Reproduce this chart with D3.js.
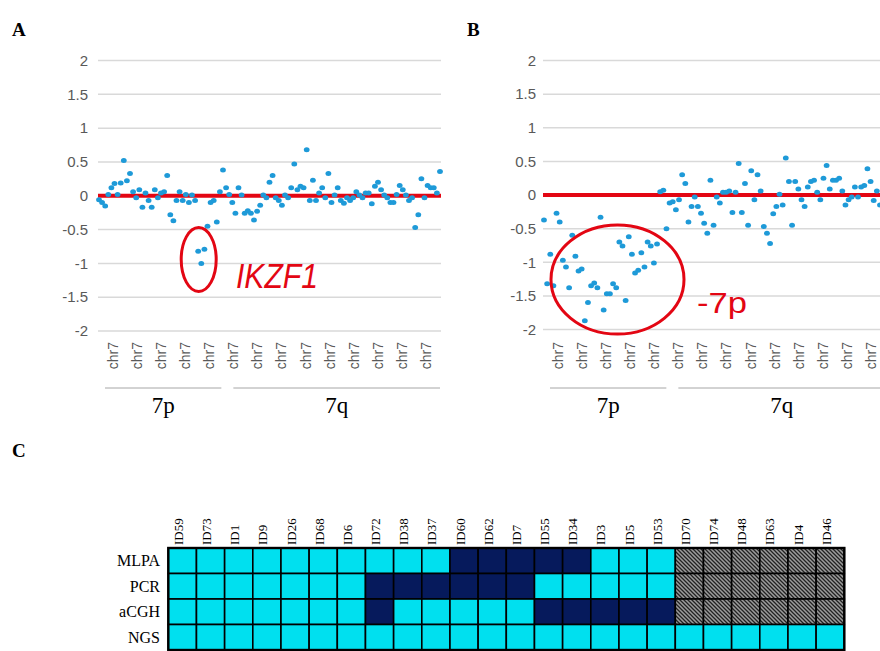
<!DOCTYPE html>
<html><head><meta charset="utf-8">
<script src="https://cdn.jsdelivr.net/npm/d3@7"></script>
<style>body{margin:0;background:#fff}svg{display:block}</style>
</head><body>
<svg id="c" width="880" height="651"></svg>
<script>
// ---------- DATA ----------
const yTicks = [2, 1.5, 1, 0.5, 0, -0.5, -1, -1.5, -2];
const xTickLabels = ["chr7","chr7","chr7","chr7","chr7","chr7","chr7","chr7","chr7","chr7","chr7","chr7","chr7","chr7"];
const armNames = ["7p", "7q"];
const armTickCounts = [5, 9];

// Panel A log2 ratios (probe order along chr7)
const valuesA = [
 -0.06,-0.1,-0.15,0.02,0.12,0.18,0.02,0.19,0.52,0.22,0.33,0.06,-0.03,0.09,-0.17,0.04,-0.07,-0.17,0.09,-0.03,
 0.04,0.06,0.3,-0.28,-0.37,-0.07,0.06,-0.07,0.02,-0.1,0.01,-0.07,-0.82,-1.0,-0.79,-0.45,
 -0.1,-0.07,-0.39,0.06,0.38,0.12,0.02,-0.1,-0.26,0.12,0.01,-0.26,-0.22,-0.26,-0.36,-0.23,-0.14,0.01,-0.03,0.2,
 0.3,-0.03,-0.07,-0.14,0.01,-0.03,0.12,0.47,0.09,0.14,0.12,0.68,-0.07,0.23,-0.07,0.04,0.12,-0.03,0.33,-0.1,
 0.01,0.12,-0.07,-0.11,-0.03,-0.07,-0.03,0.06,0.01,-0.03,0.04,0.04,-0.12,0.14,0.2,0.09,0.01,-0.03,-0.1,-0.1,
 0.02,0.15,0.09,0.01,-0.07,-0.03,-0.47,-0.28,0.25,-0.03,0.15,0.12,0.12,0.04,0.36
];
// Panel B log2 ratios
const valuesB = [
 -0.37,-1.32,-0.88,-1.35,-0.27,-0.4,-0.97,-1.07,-1.38,-0.6,-0.91,-1.13,-1.1,-1.87,-1.6,-1.35,-1.31,-1.38,-0.33,-1.71,
 -1.47,-1.47,-1.32,-1.38,-0.7,-0.76,-1.57,-0.62,-0.88,-1.16,-1.12,-0.86,-1.07,-0.7,-0.76,-1.01,-0.73,
 0.05,0.07,-0.5,-0.12,-0.1,-0.22,-0.07,0.3,0.17,-0.4,-0.17,-0.03,-0.17,-0.27,-0.42,-0.57,0.22,-0.45,-0.03,-0.12,
 0.04,0.04,0.06,-0.26,0.04,0.47,-0.26,0.17,-0.45,0.36,-0.07,0.3,0.06,-0.47,-0.57,-0.72,-0.28,-0.17,0.01,-0.15,
 0.55,0.2,-0.45,0.2,0.09,-0.07,-0.17,0.12,0.2,0.22,0.04,-0.07,0.25,0.44,0.09,0.22,0.22,0.25,0.06,-0.15,
 -0.07,-0.03,0.12,-0.03,0.12,0.14,0.39,0.2,-0.08,0.06,-0.15
];

// Panel C
const sampleIds = ["ID59","ID73","ID1","ID9","ID26","ID68","ID6","ID72","ID38","ID37","ID60","ID62","ID7","ID55","ID34","ID3","ID5","ID53","ID70","ID74","ID48","ID63","ID4","ID46"];
const methods = ["MLPA","PCR","aCGH","NGS"];
// 0 = not detected, 1 = detected, 2 = not analysed
const statusMLPA = [0,0,0,0,0,0,0,0,0,0,1,1,1,1,1,0,0,0,2,2,2,2,2,2];
const statusPCR  = [0,0,0,0,0,0,0,1,1,1,1,1,1,0,0,0,0,0,2,2,2,2,2,2];
const statusACGH = [0,0,0,0,0,0,0,1,0,0,0,0,0,1,1,1,1,1,2,2,2,2,2,2];
const statusNGS  = [0,0,0,0,0,0,0,0,0,0,0,0,0,0,0,0,0,0,0,0,0,0,0,0];

// ---------- DRAW ----------
const svg = d3.select("#c");
const RED = "#e30613", BLUE = "#1e9ad8", GRID = "#d9d9d9", TXT = "#595959";

const defs = svg.append("defs");
const pat = defs.append("pattern").attr("id","hatch").attr("patternUnits","userSpaceOnUse")
  .attr("width",4).attr("height",4);
pat.append("rect").attr("width",4).attr("height",4).attr("fill","#9c9c9c");
pat.append("path").attr("d","M-1,-1L5,5M3,-1L5,1M-1,3L1,5").attr("stroke","#222").attr("stroke-width",1.3);

function drawScatter(values, L) {
  const g = svg.append("g");
  const y = d3.scaleLinear().domain([-2, 2]).range([L.yBottom, L.yTop]);
  const x = d3.scaleLinear().domain([0, values.length - 1]).range([L.px0, L.px1]);
  const band = d3.scaleBand().domain(d3.range(xTickLabels.length)).range([L.bandL, L.bandR]);

  // gridlines
  g.selectAll("line.grid").data(yTicks).join("line")
    .attr("x1", L.plotL).attr("x2", L.plotR)
    .attr("y1", d => y(d)).attr("y2", d => y(d))
    .attr("stroke", GRID).attr("stroke-width", 1.5);
  // y labels
  g.selectAll("text.yl").data(yTicks).join("text")
    .attr("x", L.yLabelX).attr("y", d => y(d)).attr("dy","0.35em")
    .attr("text-anchor","end").attr("font-family","Liberation Sans, Arial, sans-serif")
    .attr("font-size",15).attr("fill",TXT).text(d => d);
  // zero line
  g.append("line").attr("x1", L.plotL).attr("x2", L.plotR).attr("y1", y(0)).attr("y2", y(0))
    .attr("stroke", RED).attr("stroke-width", 4);
  // points
  g.selectAll("ellipse.pt").data(values).join("ellipse")
    .attr("cx", (d,i) => x(i)).attr("cy", d => y(d)).attr("rx", 2.9).attr("ry", 2.5)
    .attr("fill", BLUE);
  // x tick labels
  g.selectAll("text.xl").data(xTickLabels).join("text")
    .attr("transform", (d,i) => `translate(${band(i) + band.bandwidth()/2},${L.xLabelY}) rotate(-90)`)
    .attr("dy","0.35em").attr("text-anchor","end")
    .attr("font-family","Liberation Sans, Arial, sans-serif").attr("font-size",14).attr("fill",TXT)
    .text(d => d);
  // arm group lines + labels
  let start = 0;
  armNames.forEach((name, k) => {
    const n = armTickCounts[k];
    const x0 = band(start) + (k === 0 ? 4 : 12);
    const x1 = band(start + n - 1) + band.bandwidth() + (k === 0 ? 0 : 2);
    g.append("line").attr("x1", x0).attr("x2", x1).attr("y1", L.groupY).attr("y2", L.groupY)
      .attr("stroke", "#a6a6a6").attr("stroke-width", 1);
    g.append("text").attr("x", (x0 + x1)/2).attr("y", L.groupLabelY).attr("text-anchor","middle")
      .attr("font-family","Liberation Serif, Times New Roman, serif").attr("font-size",23).attr("fill","#000")
      .text(name);
    start += n;
  });
  return {x, y, g};
}

const A = drawScatter(valuesA, {plotL:98, plotR:441, yTop:60.5, yBottom:331, px0:99, px1:440,
  bandL:101, bandR:438, yLabelX:88, xLabelY:342, groupY:388, groupLabelY:413});
const B = drawScatter(valuesB, {plotL:543, plotR:890, yTop:60.5, yBottom:329.5, px0:544, px1:880,
  bandL:546, bandR:883, yLabelX:536, xLabelY:342, groupY:388, groupLabelY:413});

// annotations
svg.append("ellipse").attr("cx",198.7).attr("cy",259.5).attr("rx",17.5).attr("ry",32)
  .attr("fill","none").attr("stroke",RED).attr("stroke-width",3);
svg.append("text").attr("x",236).attr("y",288).attr("font-family","Liberation Sans, Arial, sans-serif")
  .attr("font-style","italic").attr("font-size",35).attr("fill",RED)
  .attr("textLength",82).attr("lengthAdjust","spacingAndGlyphs").text("IKZF1");
svg.append("ellipse").attr("cx",617.5).attr("cy",279.5).attr("rx",66.5).attr("ry",54.5)
  .attr("fill","none").attr("stroke",RED).attr("stroke-width",3);
svg.append("text").attr("x",697).attr("y",313).attr("font-family","Liberation Sans, Arial, sans-serif")
  .attr("font-size",30).attr("fill",RED)
  .attr("textLength",50).attr("lengthAdjust","spacingAndGlyphs").text("-7p");

// panel letters
[["A",12,36],["B",467,36],["C",12,457]].forEach(([t,x,y]) => {
  svg.append("text").attr("x",x).attr("y",y).attr("font-family","Liberation Serif, Times New Roman, serif")
    .attr("font-weight","bold").attr("font-size",19).attr("fill","#000").text(t);
});

// ---------- HEATMAP ----------
const statusRows = [statusMLPA, statusPCR, statusACGH, statusNGS];
const hx = d3.scaleBand().domain(sampleIds).range([168.3, 844.3]);
const hy = d3.scaleBand().domain(methods).range([548, 650]);
const fills = ["#00e0ef", "#061a5c", "url(#hatch)"];
const cells = [];
methods.forEach((m, r) => sampleIds.forEach((id, c) => cells.push({m, id, v: statusRows[r][c]})));
const hg = svg.append("g");
hg.selectAll("rect.cell").data(cells).join("rect")
  .attr("x", d => hx(d.id)).attr("y", d => hy(d.m))
  .attr("width", hx.bandwidth()).attr("height", hy.bandwidth())
  .attr("fill", d => fills[d.v]).attr("stroke", "#000").attr("stroke-width", 1.6);
hg.append("rect").attr("x",168.3).attr("y",548).attr("width",676).attr("height",102)
  .attr("fill","none").attr("stroke","#000").attr("stroke-width",2.4);
hg.selectAll("text.col").data(sampleIds).join("text")
  .attr("transform", d => `translate(${hx(d) + hx.bandwidth()/2 + 0.5},545) rotate(-90)`)
  .attr("text-anchor","start").attr("font-family","Liberation Serif, Times New Roman, serif")
  .attr("font-size",13).attr("fill","#000").text(d => d);
hg.selectAll("text.row").data(methods).join("text")
  .attr("x",160).attr("y", d => hy(d) + hy.bandwidth()/2 + 5.5)
  .attr("text-anchor","end").attr("font-family","Liberation Serif, Times New Roman, serif")
  .attr("font-size",16).attr("fill","#000").text(d => d);
</script>
</body></html>
